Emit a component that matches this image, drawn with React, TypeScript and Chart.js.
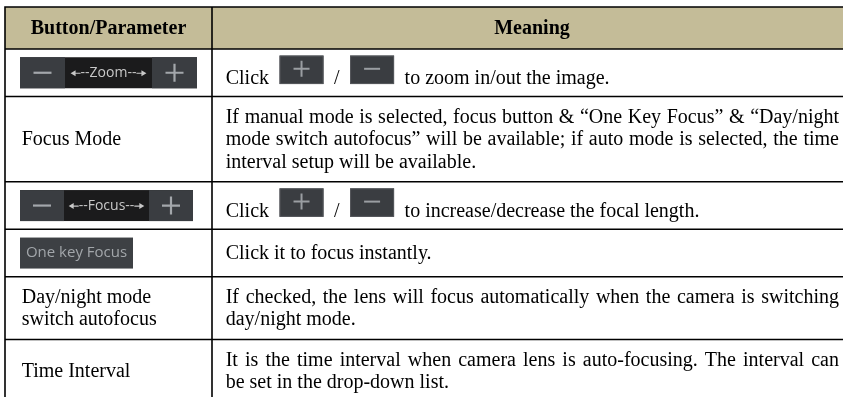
import React, { useEffect, useRef } from "react";
import { Chart, registerables } from "chart.js";

Chart.register(...registerables);

// ---- data ----
const headers: string[] = ["Button/Parameter", "Meaning"];
// kind of left cell: "zoom" | "focus" | "onekey" | "text"
const paramKinds: string[] = ["zoom", "text", "focus", "onekey", "text", "text"];
const paramLabels: string[] = [
  "Zoom",
  "Focus Mode",
  "Focus",
  "One key Focus",
  "Day/night mode\nswitch autofocus",
  "Time Interval",
];
// meaning lines; "[+]" and "[-]" mark inline buttons
const meaningLines: string[][] = [
  ["Click [+] / [-] to zoom in/out the image."],
  [
    "If manual mode is selected, focus button & \u201COne Key Focus\u201D & \u201CDay/night",
    "mode switch autofocus\u201D will be available; if auto mode is selected, the time",
    "interval setup will be available.",
  ],
  ["Click [+] / [-] to increase/decrease the focal length."],
  ["Click it to focus instantly."],
  [
    "If checked, the lens will focus automatically when the camera is switching",
    "day/night mode.",
  ],
  [
    "It is the time interval when camera lens is auto-focusing. The interval can",
    "be set in the drop-down list.",
  ],
];

const W = 843;
const H = 397;

const SERIF = "'Liberation Serif', 'Times New Roman', serif";
const SANS = "'Open Sans', 'Noto Sans', sans-serif";

function drawGlyph(ctx: CanvasRenderingContext2D, cx: number, cy: number, sign: string, len: number, color: string, lw: number) {
  ctx.save();
  ctx.strokeStyle = color;
  ctx.lineWidth = lw;
  ctx.beginPath();
  ctx.moveTo(cx - len / 2, cy);
  ctx.lineTo(cx + len / 2, cy);
  if (sign === "+") {
    ctx.moveTo(cx, cy - len / 2);
    ctx.lineTo(cx, cy + len / 2);
  }
  ctx.stroke();
  ctx.restore();
}

function smallButton(ctx: CanvasRenderingContext2D, x: number, y: number, w: number, h: number, sign: string) {
  ctx.save();
  ctx.fillStyle = "#3a3d41";
  ctx.fillRect(x, y, w, h);
  ctx.strokeStyle = "#55585c";
  ctx.lineWidth = 1;
  ctx.strokeRect(x + 0.5, y + 0.5, w - 1, h - 1);
  ctx.restore();
  drawGlyph(ctx, x + w / 2, y + h / 2 - 1, sign, 16, "#9a9ea2", 2);
}

function controlBar(ctx: CanvasRenderingContext2D, x: number, y: number, w: number, h: number, seg: number, label: string) {
  ctx.save();
  ctx.fillStyle = "#1b1b1c";
  ctx.fillRect(x, y, w, h);
  ctx.fillStyle = "#3a3d41";
  ctx.fillRect(x, y, seg, h);
  ctx.fillRect(x + w - seg, y, seg, h);
  ctx.restore();
  drawGlyph(ctx, x + seg / 2, y + h / 2, "-", 18, "#a3a7ab", 2.2);
  drawGlyph(ctx, x + w - seg / 2, y + h / 2, "+", 18, "#a3a7ab", 2.2);
  // middle label with arrows
  const cx = x + w / 2;
  const cy = y + h / 2;
  const txt = "--" + label + "--";
  ctx.save();
  ctx.fillStyle = "#c8c8c8";
  ctx.strokeStyle = "#c8c8c8";
  ctx.font = "14px " + SANS;
  ctx.textAlign = "center";
  ctx.textBaseline = "middle";
  const tw = ctx.measureText(txt).width;
  ctx.fillText(txt, cx, cy);
  const lx = cx - tw / 2;
  const rx = cx + tw / 2;
  ctx.lineWidth = 1.2;
  ctx.beginPath();
  ctx.moveTo(lx - 7, cy + 0.5);
  ctx.lineTo(lx, cy + 0.5);
  ctx.moveTo(rx, cy + 0.5);
  ctx.lineTo(rx + 7, cy + 0.5);
  ctx.stroke();
  ctx.beginPath();
  ctx.moveTo(lx - 10, cy + 0.5);
  ctx.lineTo(lx - 5, cy - 2.5);
  ctx.lineTo(lx - 5, cy + 3.5);
  ctx.closePath();
  ctx.moveTo(rx + 10, cy + 0.5);
  ctx.lineTo(rx + 5, cy - 2.5);
  ctx.lineTo(rx + 5, cy + 3.5);
  ctx.closePath();
  ctx.fill();
  ctx.restore();
}

const tablePlugin = {
  id: "tablePlugin",
  afterDraw(chart: any) {
    const ctx: CanvasRenderingContext2D = chart.ctx;
    const xs = chart.scales.x;
    const ys = chart.scales.y;
    const px = (v: number) => xs.getPixelForValue(v);
    const py = (v: number) => ys.getPixelForValue(v);

    const left = 5;
    const mid = 212;
    const right = 852;
    const top = 7;
    const headerH = 42;
    const lineH = 22.6;
    const imgRowH = 47.5;
    const textPad = 17.5;

    // row boundaries from content
    const bounds: number[] = [top, top + headerH];
    meaningLines.forEach((lines, i) => {
      const kind = paramKinds[i];
      const leftLines = kind === "text" ? paramLabels[i].split("\n").length : 0;
      const n = Math.max(lines.length, leftLines);
      const hasImg = kind !== "text" || lines.some((l) => l.includes("[+]"));
      const h = hasImg && n === 1 ? imgRowH : n * lineH + textPad;
      bounds.push(bounds[bounds.length - 1] + h);
    });

    ctx.save();
    ctx.fillStyle = "#ffffff";
    ctx.fillRect(0, 0, W, H);
    // header background
    ctx.fillStyle = "#c4bc98";
    ctx.fillRect(px(left), py(bounds[0]), px(right) - px(left), py(bounds[1]) - py(bounds[0]));

    // header text
    ctx.fillStyle = "#000";
    ctx.font = "bold 20px " + SERIF;
    ctx.textAlign = "center";
    ctx.textBaseline = "middle";
    const hy = py((bounds[0] + bounds[1]) / 2 + 1);
    ctx.fillText(headers[0], px((left + mid) / 2), hy);
    ctx.fillText(headers[1], px((mid + right) / 2), hy);

    const textX = mid + 13.7;
    const textR = 839;

    meaningLines.forEach((lines, i) => {
      const r0 = bounds[i + 1];
      const r1 = bounds[i + 2];
      const cy = (r0 + r1) / 2;
      const kind = paramKinds[i];
      // left cell
      if (kind === "zoom") {
        controlBar(ctx, px(20), py(cy - 15.5), 177, 31, 45, paramLabels[i]);
      } else if (kind === "focus") {
        controlBar(ctx, px(20), py(cy - 15.5), 173, 31, 44, paramLabels[i]);
      } else if (kind === "onekey") {
        ctx.save();
        ctx.fillStyle = "#3d4044";
        ctx.fillRect(px(20), py(cy - 15.5), 113, 31);
        ctx.fillStyle = "#a2a6aa";
        ctx.font = "15px " + SANS;
        ctx.textAlign = "center";
        ctx.textBaseline = "middle";
        ctx.fillText(paramLabels[i], px(20 + 113 / 2), py(cy), 108);
        ctx.restore();
      } else {
        const pl = paramLabels[i].split("\n");
        ctx.save();
        ctx.fillStyle = "#000";
        ctx.font = "20px " + SERIF;
        ctx.textAlign = "left";
        ctx.textBaseline = "alphabetic";
        const t0 = cy - (pl.length * lineH) / 2;
        pl.forEach((l, k) => ctx.fillText(l, px(21.7), py(t0 + k * lineH + 17.3)));
        ctx.restore();
      }

      // right cell
      ctx.save();
      ctx.fillStyle = "#000";
      ctx.font = "20px " + SERIF;
      ctx.textAlign = "left";
      ctx.textBaseline = "alphabetic";
      const first = lines[0];
      if (first.includes("[+]")) {
        const base = cy + 11.3;
        const parts = first.split(/(\[\+\]|\[-\])/);
        let x = textX;
        parts.forEach((p) => {
          if (p === "[+]" || p === "[-]") {
            smallButton(ctx, px(x), py(base - 28.5), 44, 28.5, p === "[+]" ? "+" : "-");
            x += 44;
          } else if (p.trim().length) {
            const lead = p.startsWith(" ") ? 10.5 : 0;
            const txt = p.trim();
            x += lead;
            ctx.fillText(txt, px(x), py(base));
            x += ctx.measureText(txt).width;
            if (p.endsWith(" ")) x += 10.5;
          } else {
            x += 10.5;
          }
        });
      } else {
        const t0 = cy - (lines.length * lineH) / 2;
        lines.forEach((l, k) => {
          const by = py(t0 + k * lineH + 17.3);
          const last = k === lines.length - 1;
          if (last) {
            ctx.fillText(l, px(textX), by);
          } else {
            const words = l.split(" ");
            const widths = words.map((w) => ctx.measureText(w).width);
            const total = widths.reduce((a, b) => a + b, 0);
            const gap = (textR - textX - total) / (words.length - 1);
            let x = textX;
            words.forEach((w, j) => {
              ctx.fillText(w, px(x), by);
              x += widths[j] + gap;
            });
          }
        });
      }
      ctx.restore();
    });

    // grid lines
    ctx.strokeStyle = "#000";
    ctx.lineWidth = 1.6;
    ctx.beginPath();
    bounds.forEach((b) => {
      ctx.moveTo(px(left) - 0.8, py(b));
      ctx.lineTo(px(right), py(b));
    });
    const bottom = bounds[bounds.length - 1];
    [left, mid, right].forEach((v) => {
      ctx.moveTo(px(v), py(top));
      ctx.lineTo(px(v), py(bottom));
    });
    ctx.stroke();
    ctx.restore();
  },
};

export default function App() {
  const ref = useRef<HTMLCanvasElement | null>(null);
  useEffect(() => {
    document.body.style.margin = "0";
    const canvas = ref.current;
    if (!canvas) return;
    const chart = new Chart(canvas, {
      type: "scatter",
      data: { datasets: [] },
      options: {
        animation: false,
        responsive: false,
        devicePixelRatio: 1,
        layout: { padding: 0 },
        plugins: { legend: { display: false }, tooltip: { enabled: false } },
        scales: {
          x: { type: "linear", min: 0, max: W, display: false },
          y: { type: "linear", min: 0, max: H, reverse: true, display: false },
        },
      },
      plugins: [tablePlugin],
    });
    return () => chart.destroy();
  }, []);
  return (
    <div style={{ position: "fixed", left: 0, top: 0, width: W, height: H, background: "#fff" }}>
      <canvas ref={ref} width={W} height={H} style={{ display: "block" }} />
    </div>
  );
}
